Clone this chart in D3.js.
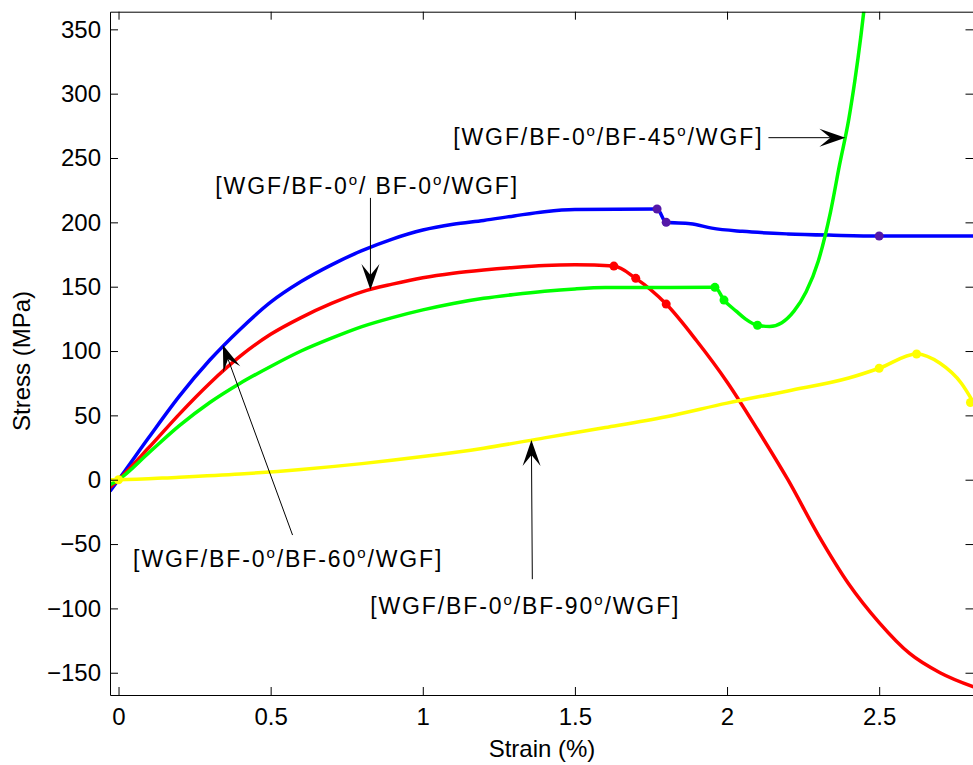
<!DOCTYPE html>
<html>
<head>
<meta charset="utf-8">
<script src="https://cdnjs.cloudflare.com/ajax/libs/d3/7.8.5/d3.min.js"></script>
<style>
    body { margin: 0; background: #fff; }
    text { font-family: "Liberation Sans", Arial, Helvetica, sans-serif; }
</style>
</head>
<body>
<div id="stress-strain"></div>
<script>

// ---- data ----
var xTicks = [0, 0.5, 1, 1.5, 2, 2.5];
var yTicks = [-150, -100, -50, 0, 50, 100, 150, 200, 250, 300, 350];

// blue
var blueStrain = [-0.028, 0, 0.1, 0.2, 0.3, 0.4, 0.5, 0.6, 0.7, 0.8, 0.9, 1.0, 1.1, 1.2, 1.3, 1.4, 1.5, 1.77, 1.80, 1.88, 1.95, 2.05, 2.2, 2.35, 2.5, 2.81];
var blueStress = [-9, 0, 33, 65, 93, 117, 138, 154, 167, 178, 187, 194, 198.5, 201.5, 205, 208.3, 210, 210.4, 200, 199, 195.5, 193, 191, 190, 189.4, 189.4];
var blueMarkStrain = [1.77, 1.80, 2.5];
var blueMarkStress = [210.4, 200, 189.4];

// red  [WGF/BF-0/ BF-0/WGF]
var redStrain = [-0.028, 0, 0.1, 0.2, 0.3, 0.4, 0.5, 0.6, 0.7, 0.8, 0.9, 1.0, 1.1, 1.2, 1.3, 1.4, 1.5, 1.628, 1.70, 1.80, 1.90, 2.0, 2.1, 2.2, 2.3, 2.4, 2.5, 2.6, 2.7, 2.81];
var redStress = [-6, 0, 25, 51, 75, 96, 113, 126, 137, 146, 152, 157, 160.5, 163, 165, 166.5, 167, 166, 156.5, 136.5, 108, 76, 39, 0, -43, -81, -111, -135, -150, -161];
var redMarkStrain = [1.628, 1.70, 1.80];
var redMarkStress = [166, 156.5, 136.5];

// green  [WGF/BF-0/BF-45/WGF]
var greenStrain = [-0.028, 0, 0.1, 0.2, 0.3, 0.4, 0.5, 0.6, 0.7, 0.8, 0.9, 1.0, 1.1, 1.2, 1.3, 1.4, 1.5, 1.6, 1.96, 1.99, 2.03, 2.06, 2.10, 2.14, 2.18, 2.22, 2.26, 2.30, 2.34, 2.37, 2.40, 2.42, 2.44, 2.46];
var greenStress = [-4, 0, 21, 42, 60, 75, 88, 100, 110, 119, 126, 132, 137, 141, 144, 146.5, 148.3, 149.3, 149.5, 139.6, 131, 125, 120, 119, 122, 131, 146, 170, 208, 245, 280, 310, 345, 385];
var greenMarkStrain = [1.96, 1.99, 2.10];
var greenMarkStress = [149.5, 139.6, 120];

// yellow  [WGF/BF-0/BF-90/WGF]
var yellowStrain = [-0.028, 0, 0.2, 0.4, 0.6, 0.8, 1.0, 1.2, 1.4, 1.6, 1.8, 2.0, 2.2, 2.4, 2.5, 2.623, 2.70, 2.77, 2.81];
var yellowStress = [0, 0, 2, 4.5, 8, 12.5, 18, 24.5, 32.5, 40.5, 49, 59.5, 69, 79, 86.6, 97.7, 90.5, 75, 60];
var yellowMarkStrain = [0, 2.5, 2.623, 2.80];
var yellowMarkStress = [0, 86.6, 97.7, 60];

// annotations: label pieces (odd pieces are superscripts), text anchor, arrow tail and tip
var annoParts = [
    ["[WGF/BF-0", "o", "/BF-45", "o", "/WGF]"],
    ["[WGF/BF-0", "o", "/ BF-0", "o", "/WGF]"],
    ["[WGF/BF-0", "o", "/BF-60", "o", "/WGF]"],
    ["[WGF/BF-0", "o", "/BF-90", "o", "/WGF]"]
];
var annoTextStrain = [1.10, 0.318, 0.048, 0.827];
var annoTextStress = [260, 222, -67.8, -104.4];
var arrowFromStrain = [2.136, 0.828, 0.572, 1.36];
var arrowFromStress = [265.8, 219, -43, -77.3];
var arrowToStrain = [2.389, 0.828, 0.343, 1.357];
var arrowToStress = [265.8, 147.4, 104.7, 30.9];


var width = 973, height = 765;
var plotLeft = 110, plotTop = 11.7, plotRight = 973.5, plotBottom = 695;

var x = d3.scaleLinear()
    .domain([-0.028, 2.81])
    .range([plotLeft, plotRight]);

var y = d3.scaleLinear()
    .domain([-167.3, 363.7])
    .range([plotBottom, plotTop]);

var svg = d3.select("#stress-strain")
    .append("svg")
    .attr("width", width)
    .attr("height", height);

svg.append("defs").append("clipPath")
    .attr("id", "plot-clip")
    .append("rect")
    .attr("x", plotLeft)
    .attr("y", plotTop)
    .attr("width", plotRight - plotLeft)
    .attr("height", plotBottom - plotTop);

// series table built from the arrays above
var series = [
    {color: "#0000ff", mark: "#5418a8", sx: blueStrain, sy: blueStress, mx: blueMarkStrain, my: blueMarkStress},
    {color: "#ff0000", mark: "#ff0000", sx: redStrain, sy: redStress, mx: redMarkStrain, my: redMarkStress},
    {color: "#00ff00", mark: "#00ff00", sx: greenStrain, sy: greenStress, mx: greenMarkStrain, my: greenMarkStress},
    {color: "#ffff00", mark: "#ffff00", sx: yellowStrain, sy: yellowStress, mx: yellowMarkStrain, my: yellowMarkStress}
];

var line = d3.line()
    .x(function (d) { return x(d[0]); })
    .y(function (d) { return y(d[1]); })
    .curve(d3.curveMonotoneX);

var plot = svg.append("g")
    .attr("clip-path", "url(#plot-clip)");

series.forEach(function (s) {
    var pts = s.sx.map(function (v, i) { return [v, s.sy[i]]; });
    plot.append("path")
        .datum(pts)
        .attr("d", line)
        .attr("fill", "none")
        .attr("stroke", s.color)
        .attr("stroke-width", 3.5)
        .attr("stroke-linejoin", "round");

    var marks = s.mx.map(function (v, i) { return [v, s.my[i]]; });
    plot.append("g")
        .selectAll("circle")
        .data(marks)
        .enter()
        .append("circle")
        .attr("cx", function (d) { return x(d[0]); })
        .attr("cy", function (d) { return y(d[1]); })
        .attr("r", 4.5)
        .style("fill", s.mark);
});

// axes, box with inward ticks
function styleAxis(g) {
    g.selectAll("path, line").attr("stroke", "#000").attr("stroke-width", 1);
    g.selectAll("text").attr("fill", "#000").style("font-size", "24px")
        .style("font-family", "'Liberation Sans', Arial, sans-serif");
}

svg.append("g")
    .attr("transform", "translate(0," + plotBottom + ")")
    .call(d3.axisBottom(x).tickValues(xTicks).tickSizeInner(-8).tickSizeOuter(0).tickPadding(13)
        .tickFormat(function (d) { return d; }))
    .call(styleAxis);

svg.append("g")
    .attr("transform", "translate(0," + plotTop + ")")
    .call(d3.axisTop(x).tickValues(xTicks).tickSizeInner(-8).tickSizeOuter(0).tickFormat(""))
    .call(styleAxis);

svg.append("g")
    .attr("transform", "translate(" + plotLeft + ",0)")
    .call(d3.axisLeft(y).tickValues(yTicks).tickSizeInner(-8).tickSizeOuter(0).tickPadding(9))
    .call(styleAxis);

svg.append("g")
    .attr("transform", "translate(" + plotRight + ",0)")
    .call(d3.axisRight(y).tickValues(yTicks).tickSizeInner(-8).tickSizeOuter(0).tickFormat(""))
    .call(styleAxis);

// axis titles
svg.append("text")
    .attr("x", 542)
    .attr("y", 757)
    .attr("text-anchor", "middle")
    .style("font-size", "24px")
    .text("Strain (%)");

svg.append("text")
    .attr("transform", "translate(30,361) rotate(-90)")
    .attr("text-anchor", "middle")
    .style("font-size", "24px")
    .text("Stress (MPa)");

// annotation arrows
function drawArrow(x1, y1, x2, y2) {
    var dx = x2 - x1, dy = y2 - y1, len = Math.sqrt(dx * dx + dy * dy);
    var ux = dx / len, uy = dy / len, px = -uy, py = ux;
    var L = 26, W = 9, notch = 15;
    svg.append("line")
        .attr("x1", x1).attr("y1", y1)
        .attr("x2", x2 - ux * notch).attr("y2", y2 - uy * notch)
        .attr("stroke", "#000")
        .attr("stroke-width", 1);
    var p = [
        [x2, y2],
        [x2 - ux * L + px * W, y2 - uy * L + py * W],
        [x2 - ux * notch, y2 - uy * notch],
        [x2 - ux * L - px * W, y2 - uy * L - py * W]
    ];
    svg.append("path")
        .attr("d", "M" + p.map(function (q) { return q[0] + "," + q[1]; }).join("L") + "Z")
        .attr("fill", "#000");
}

annoParts.forEach(function (parts, i) {
    drawArrow(x(arrowFromStrain[i]), y(arrowFromStress[i]), x(arrowToStrain[i]), y(arrowToStress[i]));

    var t = svg.append("text")
        .attr("x", x(annoTextStrain[i]))
        .attr("y", y(annoTextStress[i]))
        .style("font-size", "23px")
        .style("letter-spacing", "1.9px");
    parts.forEach(function (p, k) {
        var sp = t.append("tspan").text(p);
        if (k % 2 == 1) {
            sp.style("font-size", "15px").attr("dy", -9);
        } else if (k > 0) {
            sp.attr("dy", 9);
        }
    });
});

</script>
</body>
</html>
